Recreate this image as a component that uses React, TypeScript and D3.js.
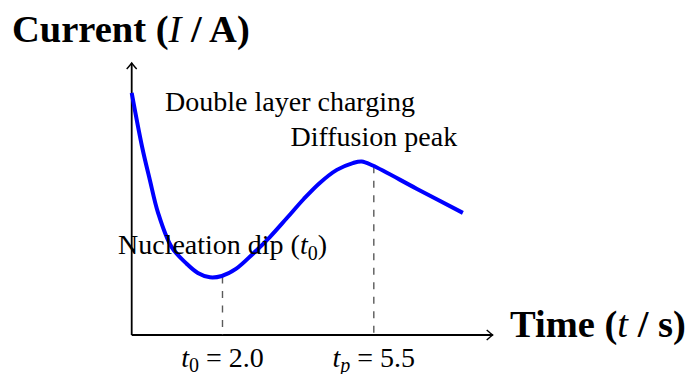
import * as d3 from "d3";
import React, { useEffect, useRef } from "react";

// time (s) and current (A)
const times = [-0.1, 0.14, 0.32, 0.51, 0.82, 1.17, 1.43, 1.71, 1.985, 2.31, 2.7, 3.095, 3.49, 3.88, 4.25, 4.645, 5.015, 5.22, 5.475, 6.5, 7.56];
const currents = [8.9, 6.92, 5.7, 4.49, 3.24, 2.62, 2.28, 2.12, 2.17, 2.43, 2.98, 3.6, 4.3, 5.0, 5.59, 6.07, 6.32, 6.38, 6.23, 5.37, 4.49];

// dashed markers: position on the time axis and height where they meet the curve
const markerTimes = [2.0, 5.5];
const markerTops = [2.15, 6.2];
const markerNames = ["0", "p"];
const markerValues = ["2.0", "5.5"];

const annotations = ["Double layer charging", "Diffusion peak", "Nucleation dip"];

const App = () => {
  const svgRef = useRef<SVGSVGElement>(null);

  useEffect(() => {
    const width = 686,
      height = 374;
    const svg = d3.select(svgRef.current).html("").attr("width", width).attr("height", height);

    const x = d3.scaleLinear().domain([-0.1, 8.25]).range([131.7, 492.7]);
    const y = d3.scaleLinear().domain([0, 10]).range([335, 63]);

    const font = "'Liberation Serif', 'DejaVu Serif', serif";

    // arrow head like tikz "->"
    svg
      .append("defs")
      .append("marker")
      .attr("id", "tip")
      .attr("viewBox", "-8 -6 10 12")
      .attr("markerWidth", 10)
      .attr("markerHeight", 12)
      .attr("markerUnits", "userSpaceOnUse")
      .attr("refX", 0)
      .attr("refY", 0)
      .attr("orient", "auto")
      .append("path")
      .attr("d", "M-6,-5 Q-1.5,-1 0,0 Q-1.5,1 -6,5")
      .attr("fill", "none")
      .attr("stroke", "#000")
      .attr("stroke-width", 1.4);

    // axes
    svg
      .append("line")
      .attr("x1", x(-0.1))
      .attr("y1", y(0))
      .attr("x2", x(8.25))
      .attr("y2", y(0))
      .attr("stroke", "#000")
      .attr("stroke-width", 1.8)
      .attr("marker-end", "url(#tip)");
    svg
      .append("line")
      .attr("x1", x(-0.1))
      .attr("y1", y(0))
      .attr("x2", x(-0.1))
      .attr("y2", y(10))
      .attr("stroke", "#000")
      .attr("stroke-width", 1.8)
      .attr("marker-end", "url(#tip)");

    // dashed guides
    markerTimes.forEach((t, i) => {
      svg
        .append("line")
        .attr("x1", x(t))
        .attr("x2", x(t))
        .attr("y1", y(markerTops[i]))
        .attr("y2", y(0))
        .attr("stroke", "#5a5a5a")
        .attr("stroke-width", 1.4)
        .attr("stroke-dasharray", "7,7.5");
    });

    // current transient
    const line = d3
      .line<number>()
      .x((d, i) => x(times[i]))
      .y((d) => y(d))
      .curve(d3.curveCatmullRom.alpha(0.5));

    svg
      .append("path")
      .datum(currents)
      .attr("d", line)
      .attr("fill", "none")
      .attr("stroke", "#0000ff")
      .attr("stroke-width", 4)
      .attr("stroke-linejoin", "round");

    // tick labels t0 = 2.0, tp = 5.5
    markerTimes.forEach((t, i) => {
      const txt = svg
        .append("text")
        .attr("x", x(t))
        .attr("y", 367)
        .attr("text-anchor", "middle")
        .style("font-family", font)
        .style("font-size", "28px");
      txt.append("tspan").style("font-style", "italic").text("t");
      txt
        .append("tspan")
        .attr("dy", 5)
        .style("font-size", "20px")
        .style("font-style", markerNames[i] === "p" ? "italic" : "normal")
        .text(markerNames[i]);
      txt.append("tspan").attr("dy", -5).text(" = " + markerValues[i]);
    });

    // annotations
    svg
      .append("text")
      .attr("x", 290)
      .attr("y", 111)
      .attr("text-anchor", "middle")
      .style("font-family", font)
      .style("font-size", "28px")
      .text(annotations[0]);

    svg
      .append("text")
      .attr("x", x(markerTimes[1]))
      .attr("y", 146)
      .attr("text-anchor", "middle")
      .style("font-family", font)
      .style("font-size", "28px")
      .text(annotations[1]);

    const nuc = svg
      .append("text")
      .attr("x", x(markerTimes[0]))
      .attr("y", 254)
      .attr("text-anchor", "middle")
      .style("font-family", font)
      .style("font-size", "28px");
    nuc.append("tspan").text(annotations[2] + " (");
    nuc.append("tspan").style("font-style", "italic").text("t");
    nuc.append("tspan").attr("dy", 6).style("font-size", "20px").text("0");
    nuc.append("tspan").attr("dy", -6).text(")");

    // axis titles
    const yTitle = svg
      .append("text")
      .attr("x", 12)
      .attr("y", 42)
      .style("font-family", font)
      .style("font-size", "38.5px")
      .style("font-weight", "bold");
    yTitle.append("tspan").text("Current (");
    yTitle.append("tspan").style("font-style", "italic").style("font-weight", "normal").text("I");
    yTitle.append("tspan").text(" / A)");

    const xTitle = svg
      .append("text")
      .attr("x", 510)
      .attr("y", 337)
      .style("font-family", font)
      .style("font-size", "38.5px")
      .style("font-weight", "bold");
    xTitle.append("tspan").text("Time (");
    xTitle.append("tspan").style("font-style", "italic").style("font-weight", "normal").text("t");
    xTitle.append("tspan").text(" / s)");
  }, []);

  return (
    <div style={{ position: "absolute", left: 0, top: 0 }}>
      <svg ref={svgRef} style={{ display: "block" }} />
    </div>
  );
};

export default App;
